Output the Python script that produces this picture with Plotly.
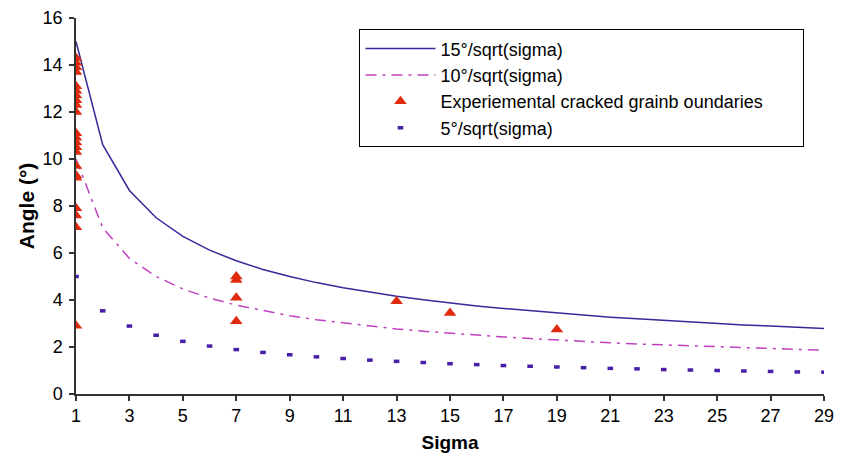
import plotly.graph_objects as go

sigma = list(range(1, 30))
line15 = [15.00, 10.61, 8.66, 7.50, 6.71, 6.12, 5.67, 5.30, 5.00, 4.74, 4.52, 4.33, 4.16, 4.01,
          3.87, 3.75, 3.64, 3.54, 3.44, 3.35, 3.27, 3.20, 3.13, 3.06, 3.00, 2.94, 2.89, 2.83, 2.79]
line10 = [10.00, 7.07, 5.77, 5.00, 4.47, 4.08, 3.78, 3.54, 3.33, 3.16, 3.02, 2.89, 2.77, 2.67,
          2.58, 2.50, 2.43, 2.36, 2.29, 2.24, 2.18, 2.13, 2.09, 2.04, 2.00, 1.96, 1.92, 1.89, 1.86]
line5 = [5.00, 3.54, 2.89, 2.50, 2.24, 2.04, 1.89, 1.77, 1.67, 1.58, 1.51, 1.44, 1.39, 1.34,
         1.29, 1.25, 1.21, 1.18, 1.15, 1.12, 1.09, 1.07, 1.04, 1.02, 1.00, 0.98, 0.96, 0.94, 0.93]

exp_sigma = [1] * 22 + [7, 7, 7, 7, 13, 15, 19]
exp_angle = [14.3, 14.1, 13.9, 13.7, 13.1, 12.9, 12.7, 12.5, 12.3, 12.0, 11.1, 10.9, 10.7, 10.5,
             10.3, 9.7, 9.3, 9.2, 7.9, 7.6, 7.1, 2.9,
             5.0, 4.85, 4.1, 3.1, 3.95, 3.45, 2.75]

x_ticks = list(range(1, 30, 2))
y_ticks = list(range(0, 17, 2))

FONT = "Liberation Sans, Arial, sans-serif"
PAD = "\u00a0" * 7  # invisible padding to widen the legend box

fig = go.Figure()
fig.add_trace(go.Scatter(x=sigma, y=line15, mode="lines", name="15°/sqrt(sigma)",
                         line=dict(color="#35299A", width=1.5)))
fig.add_trace(go.Scatter(x=sigma, y=line10, mode="lines", name="10°/sqrt(sigma)",
                         line=dict(color="#C040C0", width=1.5, dash="11px,6px,3px,6px")))
fig.add_trace(go.Scatter(x=exp_sigma, y=exp_angle, mode="markers",
                         name="Experiemental cracked grainb oundaries" + PAD,
                         marker=dict(symbol="triangle-up", size=11, color="#E02A0E")))
fig.add_trace(go.Scatter(x=sigma, y=line5, mode="markers", name="5°/sqrt(sigma)",
                         marker=dict(symbol="line-ew", size=4,
                                     line=dict(color="#4A1FA8", width=3.5))))

fig.update_layout(
    width=836, height=452,
    margin=dict(l=68, r=20, t=10, b=66),
    paper_bgcolor="white", plot_bgcolor="white",
    font=dict(family=FONT, size=16, color="black"),
    showlegend=True,
    legend=dict(x=0.379, y=0.97, xanchor="left", yanchor="top",
                bordercolor="black", borderwidth=1, bgcolor="white",
                font=dict(family=FONT, size=18, color="black"),
                itemwidth=70, tracegroupgap=0),
)
fig.update_xaxes(range=[1, 29], tickvals=x_ticks, ticktext=[str(v) for v in x_ticks],
                 automargin=False, ticklabeloverflow="allow",
                 showgrid=False, zeroline=False, showline=True, linecolor="#333333", linewidth=1.5,
                 ticks="outside", ticklen=5, tickcolor="#333333", tickwidth=1.5,
                 tickfont=dict(size=18),
                 title=dict(text="<b>Sigma</b>", font=dict(size=19), standoff=10))
fig.update_yaxes(range=[0, 16], tickvals=y_ticks,
                 automargin=False, ticklabeloverflow="allow",
                 showgrid=False, zeroline=False, showline=True, linecolor="#333333", linewidth=1.5,
                 ticks="outside", ticklen=5, tickcolor="#333333", tickwidth=1.5,
                 ticklabelstandoff=3,
                 tickfont=dict(size=18),
                 title=dict(text="<b>Angle (°)</b>", font=dict(size=21), standoff=2))

fig.write_html("out.html")
